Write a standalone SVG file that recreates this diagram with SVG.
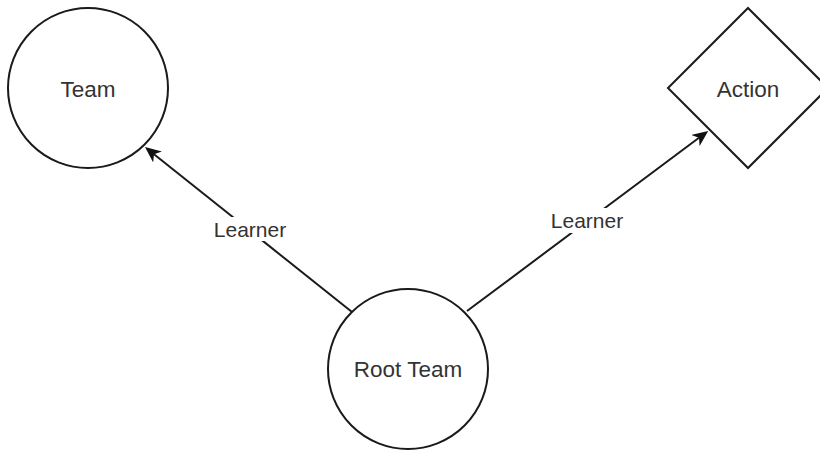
<svg xmlns="http://www.w3.org/2000/svg" width="820" height="450" viewBox="0 0 820 450">
  <style>
    .shape { fill: #ffffff; stroke: #1a1a1a; stroke-width: 2; }
    .edge { fill: none; stroke: #1a1a1a; stroke-width: 2; }
    .node-label { font-family: "Liberation Sans", Arial, sans-serif; font-size: 22.5px; fill: #333333; text-anchor: middle; dominant-baseline: central; }
    .edge-label { font-family: "Liberation Sans", Arial, sans-serif; font-size: 21px; fill: #333333; text-anchor: middle; dominant-baseline: central; }
    .label-bg { fill: #ffffff; }
  </style>
  <defs>
    <marker id="arrow" markerUnits="userSpaceOnUse" markerWidth="16" markerHeight="14" refX="4.5" refY="7" orient="auto">
      <path d="M0,0 L16,7 L0,14 L4.5,7 z" fill="#111111"/>
    </marker>
  </defs>

  <rect width="820" height="450" fill="#ffffff"/>

  <g id="connectors">
    <line class="edge" x1="352" y1="312" x2="154" y2="154.2" marker-end="url(#arrow)"/>
    <rect class="label-bg" x="211" y="217" width="78" height="24"/>
    <text class="edge-label" x="250" y="229">Learner</text>

    <line class="edge" x1="467" y1="311" x2="699" y2="137.8" marker-end="url(#arrow)"/>
    <rect class="label-bg" x="548" y="208" width="78" height="25"/>
    <text class="edge-label" x="587" y="220">Learner</text>
  </g>

  <g id="team">
    <circle class="shape" cx="88" cy="88" r="80"/>
    <text class="node-label" x="88" y="89">Team</text>
  </g>

  <g id="action">
    <polygon class="shape" points="748,8 828,88 748,168 668,88"/>
    <text class="node-label" x="748" y="89">Action</text>
  </g>

  <g id="root-team">
    <circle class="shape" cx="408" cy="369" r="80"/>
    <text class="node-label" x="408" y="369">Root Team</text>
  </g>
</svg>
